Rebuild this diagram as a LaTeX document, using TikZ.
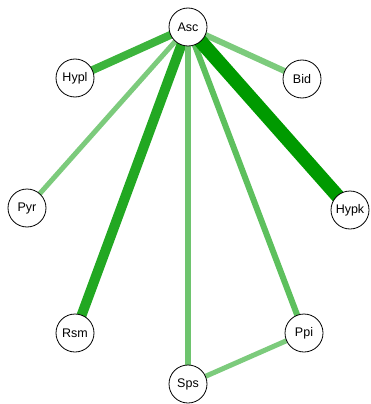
\documentclass[tikz,border=0pt]{standalone}
\usepackage{fontspec}
\setmainfont{Liberation Sans}
\pgfdeclarelayer{back}
\pgfsetlayers{back,main}
\begin{document}
\begin{tikzpicture}[x=1pt,y=-1pt,
  vertex/.style={circle,draw=black,line width=0.8pt,fill=white,minimum size=38pt,inner sep=0pt,font=\fontsize{12.5}{14}\selectfont},
  link/.style={line cap=butt}]
\useasboundingbox (0,0) rectangle (370,404);
\definecolor{gdark}{HTML}{009A00}
\definecolor{grsm}{HTML}{22A822}
\definecolor{gmid}{HTML}{3CB43C}
\definecolor{gppi}{HTML}{5DC05D}
\definecolor{glight}{HTML}{7CCB7C}
\definecolor{gsps}{HTML}{6EC46E}
% vertices
\node[vertex] (asc)  at (188,27)  {Asc};
\node[vertex] (hypl) at (75,78)   {Hypl};
\node[vertex] (bid)  at (302,79)  {Bid};
\node[vertex] (pyr)  at (27,208)  {Pyr};
\node[vertex] (hypk) at (350,210) {Hypk};
\node[vertex] (rsm)  at (75,333)  {Rsm};
\node[vertex] (ppi)  at (304,333) {Ppi};
\node[vertex] (sps)  at (188,384) {Sps};
% weighted links, drawn beneath the vertices
\begin{pgfonlayer}{back}
\draw[link,gmid,line width=8pt]   (asc.center) -- (hypl.center);
\draw[link,glight,line width=5pt] (asc.center) -- (pyr.center);
\draw[link,grsm,line width=10pt]  (asc.center) -- (rsm.center);
\draw[link,gsps,line width=6pt]   (asc.center) -- (sps.center);
\draw[link,gppi,line width=6pt]   (asc.center) -- (ppi.center);
\draw[link,glight,line width=6pt] (asc.center) -- (bid.center);
\draw[link,gdark,line width=14pt] (asc.center) -- (hypk.center);
\draw[link,glight,line width=5pt] (sps.center) -- (ppi.center);
\end{pgfonlayer}
\end{tikzpicture}
\end{document}
